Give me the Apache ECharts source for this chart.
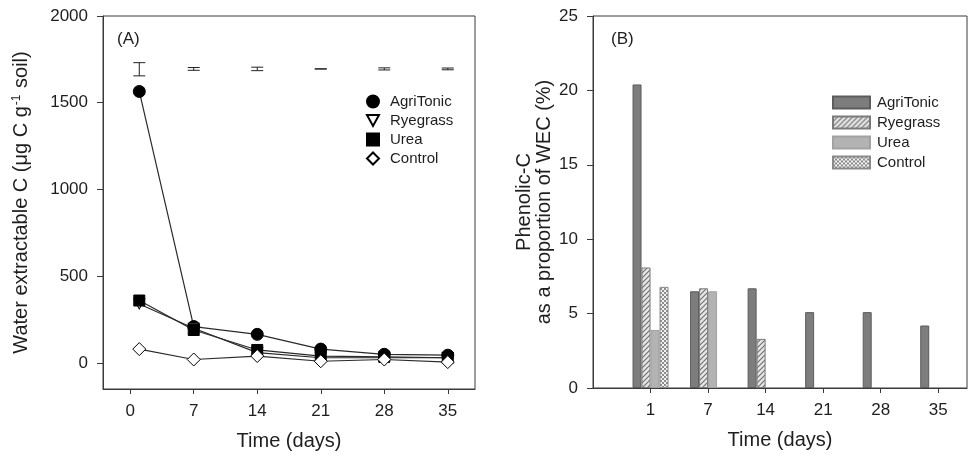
<!DOCTYPE html>
<html>
<head>
<meta charset="utf-8">
<script src="https://cdn.jsdelivr.net/npm/echarts@6/dist/echarts.min.js"></script>
<style>
  html, body { margin: 0; padding: 0; background: #fff; }
  #chart { width: 971px; height: 462px; }
</style>
</head>
<body>
<div id="chart"></div>
<script>
// panel A: water extractable C
var daysA = [1, 7, 14, 21, 28, 35];
var ticksXA = [0, 7, 14, 21, 28, 35];
var ticksYA = [0, 500, 1000, 1500, 2000];
var agriA = [1565, 210, 165, 80, 50, 45];
var ryeA = [340, 200, 60, 30, 30, 30];
var ureaA = [360, 190, 75, 40, 35, 30];
var controlA = [80, 20, 40, 10, 20, 5];
// error bars at the top of panel A
var errMid = [1693, 1695, 1695, 1695, 1695, 1695];
var errHalf = [38, 8, 10, 1, 6, 5];

// panel B: phenolic-C share of WEC (%)
var posB = [1, 2, 3, 4, 5, 6];
var dayLabelsB = ['1', '7', '14', '21', '28', '35'];
var agriB = [20.4, 6.5, 6.7, 5.1, 5.1, 4.2];
var ryeB = [8.1, 6.7, 3.3, 0, 0, 0];
var ureaB = [3.9, 6.5, 0, 0, 0, 0];
var controlB = [6.8, 0, 0, 0, 0, 0];

var FONT = '"Liberation Sans", Arial, sans-serif';
var AX = '#3a3a3a';
var TXT = '#1e1e1e';
var TICK_FS = 17;

function pairs(xs, ys) {
  return xs.map(function (x, i) { return [x, ys[i]]; });
}
// bars of zero height are not drawn
function barPairs(xs, ys) {
  return xs.map(function (x, i) { return ys[i] > 0 ? [x, ys[i]] : [x, null]; });
}

// hatch fills for the bars
function hatchCanvas() {
  var c = document.createElement('canvas');
  c.width = 5; c.height = 5;
  var g = c.getContext('2d');
  g.fillStyle = '#e6e6e6';
  g.fillRect(0, 0, 5, 5);
  g.strokeStyle = '#6e6e6e';
  g.lineWidth = 1.1;
  g.beginPath();
  g.moveTo(-1, 6); g.lineTo(6, -1);
  g.moveTo(-1, 1); g.lineTo(1, -1);
  g.moveTo(4, 6); g.lineTo(6, 4);
  g.stroke();
  return c;
}
function checkCanvas() {
  var c = document.createElement('canvas');
  c.width = 4; c.height = 4;
  var g = c.getContext('2d');
  g.fillStyle = '#f2f2f2';
  g.fillRect(0, 0, 4, 4);
  g.fillStyle = '#8c8c8c';
  g.fillRect(0, 0, 2, 2);
  g.fillRect(2, 2, 2, 2);
  return c;
}

var axisCommon = {
  axisLine: { show: true, onZero: false, lineStyle: { color: AX, width: 1 } },
  axisTick: { show: true, inside: false, length: 6, lineStyle: { color: AX } },
  splitLine: { show: false },
  nameTextStyle: { color: TXT, fontSize: 20, fontFamily: FONT }
};
function ax(extra) {
  return Object.assign({}, JSON.parse(JSON.stringify(axisCommon)), extra);
}
function plain(v) { return String(v); }

var triDown = 'path://M0,0 L10,0 L5,9 Z';
var lineStyleA = { color: '#2a2a2a', width: 1.2 };

var chart = echarts.init(document.getElementById('chart'), null, { renderer: 'canvas' });

chart.setOption({
  backgroundColor: '#fff',
  animation: false,
  textStyle: { fontFamily: FONT },
  grid: [
    { left: 103, top: 16, width: 372, height: 373, show: true, borderColor: AX, borderWidth: 1, backgroundColor: 'transparent' },
    { left: 593, top: 16, width: 374, height: 372, show: true, borderColor: AX, borderWidth: 1, backgroundColor: 'transparent' }
  ],
  legend: [
    {
      left: 361, top: 89, orient: 'vertical', itemWidth: 12, itemHeight: 12, itemGap: 4,
      textStyle: { color: TXT, fontSize: 15, fontFamily: FONT, padding: [0, 0, 0, 6] },
      data: [
        { name: 'AgriTonic', icon: 'circle' },
        { name: 'Ryegrass', icon: triDown },
        { name: 'Urea', icon: 'rect' },
        { name: 'Control', icon: 'diamond' }
      ]
    },
    {
      left: 827, top: 90, orient: 'vertical', itemWidth: 37, itemHeight: 12, itemGap: 5,
      textStyle: { color: TXT, fontSize: 15, fontFamily: FONT, padding: [0, 0, 0, 2] },
      data: ['AgriTonic ', 'Ryegrass ', 'Urea ', 'Control '].map(function (n) { return { name: n, icon: 'rect' }; })
    }
  ],
  xAxis: [
    ax({
      type: 'value', gridIndex: 0, min: -3, max: 38,
      axisTick: { show: true, length: 5, lineStyle: { color: AX }, customValues: ticksXA },
      axisLabel: { color: TXT, fontSize: TICK_FS, fontFamily: FONT, margin: 14, customValues: ticksXA, formatter: plain },
      name: 'Time (days)', nameLocation: 'middle', nameGap: 42
    }),
    ax({
      type: 'value', gridIndex: 1, min: 0, max: 6.5,
      axisTick: { show: true, length: 5, lineStyle: { color: AX }, customValues: posB },
      axisLabel: {
        color: TXT, fontSize: TICK_FS, fontFamily: FONT, margin: 14, customValues: posB,
        formatter: function (v) { return dayLabelsB[Math.round(v) - 1] || ''; }
      },
      name: 'Time (days)', nameLocation: 'middle', nameGap: 42
    })
  ],
  yAxis: [
    ax({
      type: 'value', gridIndex: 0, min: -150, max: 2000,
      axisTick: { show: true, length: 6, lineStyle: { color: AX }, customValues: ticksYA },
      axisLabel: { color: TXT, fontSize: TICK_FS, fontFamily: FONT, margin: 15, customValues: ticksYA, formatter: plain },
      name: '{n|Water extractable C (μg C g}{s|-1}{n| soil)}',
      nameLocation: 'middle', nameGap: 71, nameRotate: 90,
      nameTextStyle: {
        rich: {
          n: { fontSize: 20, fontFamily: FONT, color: TXT },
          s: { fontSize: 12, fontFamily: FONT, color: TXT, verticalAlign: 'top', padding: [0, 1, 9, 1] }
        }
      }
    }),
    ax({
      type: 'value', gridIndex: 1, min: 0, max: 25, interval: 5,
      axisTick: { show: true, length: 6, lineStyle: { color: AX } },
      axisLabel: { color: TXT, fontSize: TICK_FS, fontFamily: FONT, margin: 15, formatter: plain },
      name: 'Phenolic-C\nas a proportion of WEC (%)',
      nameLocation: 'middle', nameGap: 39, nameRotate: 90,
      nameTextStyle: { color: TXT, fontSize: 20, fontFamily: FONT, lineHeight: 20 }
    })
  ],
  graphic: [
    { type: 'text', left: 117, top: 31, style: { text: '(A)', fill: TXT, fontSize: 17, fontFamily: FONT } },
    { type: 'text', left: 611, top: 31, style: { text: '(B)', fill: TXT, fontSize: 17, fontFamily: FONT } }
  ],
  series: [
    {
      name: 'errors', type: 'custom', xAxisIndex: 0, yAxisIndex: 0, silent: true,
      data: daysA.map(function (d, i) { return [d, errMid[i] - errHalf[i], errMid[i] + errHalf[i]]; }),
      renderItem: function (params, api) {
        var lo = api.coord([api.value(0), api.value(1)]);
        var hi = api.coord([api.value(0), api.value(2)]);
        var w = 6;
        var st = { stroke: '#222', lineWidth: 1 };
        return {
          type: 'group',
          children: [
            { type: 'line', shape: { x1: lo[0], y1: lo[1], x2: hi[0], y2: hi[1] }, style: st },
            { type: 'line', shape: { x1: lo[0] - w, y1: lo[1], x2: lo[0] + w, y2: lo[1] }, style: st },
            { type: 'line', shape: { x1: hi[0] - w, y1: hi[1], x2: hi[0] + w, y2: hi[1] }, style: st }
          ]
        };
      }
    },
    {
      name: 'AgriTonic', type: 'line', xAxisIndex: 0, yAxisIndex: 0, z: 3,
      data: pairs(daysA, agriA), symbol: 'circle', symbolSize: 12,
      lineStyle: lineStyleA, itemStyle: { color: '#000', borderColor: '#000', borderWidth: 1 }
    },
    {
      name: 'Ryegrass', type: 'line', xAxisIndex: 0, yAxisIndex: 0, z: 4,
      data: pairs(daysA, ryeA), symbol: triDown, symbolSize: [11, 10],
      lineStyle: lineStyleA, itemStyle: { color: '#fff', borderColor: '#000', borderWidth: 1 }
    },
    {
      name: 'Urea', type: 'line', xAxisIndex: 0, yAxisIndex: 0, z: 5,
      data: pairs(daysA, ureaA), symbol: 'rect', symbolSize: 11,
      lineStyle: lineStyleA, itemStyle: { color: '#000', borderColor: '#000', borderWidth: 1 }
    },
    {
      name: 'Control', type: 'line', xAxisIndex: 0, yAxisIndex: 0, z: 6,
      data: pairs(daysA, controlA), symbol: 'diamond', symbolSize: 13,
      lineStyle: lineStyleA, itemStyle: { color: '#fff', borderColor: '#000', borderWidth: 1 }
    },
    {
      name: 'AgriTonic ', type: 'bar', xAxisIndex: 1, yAxisIndex: 1,
      data: barPairs(posB, agriB), barWidth: 9, barGap: '0%',
      itemStyle: { color: '#7d7d7d', borderColor: '#5c5c5c', borderWidth: 1 }
    },
    {
      name: 'Ryegrass ', type: 'bar', xAxisIndex: 1, yAxisIndex: 1,
      data: barPairs(posB, ryeB), barWidth: 9, barGap: '0%',
      itemStyle: { color: { image: hatchCanvas(), repeat: 'repeat' }, borderColor: '#7a7a7a', borderWidth: 1 }
    },
    {
      name: 'Urea ', type: 'bar', xAxisIndex: 1, yAxisIndex: 1,
      data: barPairs(posB, ureaB), barWidth: 9, barGap: '0%',
      itemStyle: { color: '#b3b3b3', borderColor: '#a2a2a2', borderWidth: 1 }
    },
    {
      name: 'Control ', type: 'bar', xAxisIndex: 1, yAxisIndex: 1,
      data: barPairs(posB, controlB), barWidth: 9, barGap: '0%',
      itemStyle: { color: { image: checkCanvas(), repeat: 'repeat' }, borderColor: '#8a8a8a', borderWidth: 1 }
    }
  ]
});
</script>
</body>
</html>
